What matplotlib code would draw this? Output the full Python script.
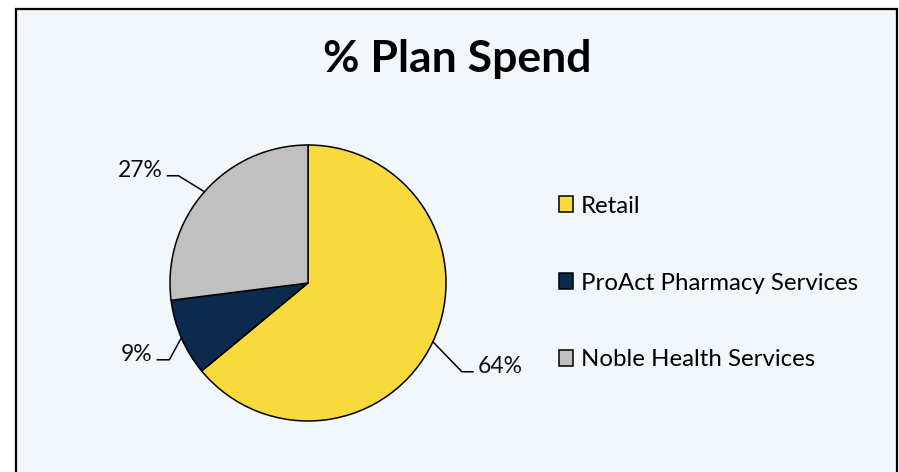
import numpy as np
import matplotlib.pyplot as plt
from matplotlib.patches import Rectangle

plt.rcParams['font.family'] = ['Lato', 'DejaVu Sans']

categories = ["Retail", "ProAct Pharmacy Services", "Noble Health Services"]
shares = [64, 9, 27]
pct_labels = ["64%", "9%", "27%"]
colors = ["#F9DA3C", "#0B2A4D", "#C0C0C0"]

W, H = 899, 472
fig = plt.figure(figsize=(W / 100, H / 100), dpi=100)
fig.patch.set_facecolor("white")
ax = fig.add_axes([0, 0, 1, 1])

# work in pixel-like units, y pointing up
cx, cy, r = 308, H - 283, 138

ax.add_patch(Rectangle((16, -20), 881, H - 9 + 20, facecolor="#F2F7FC",
                       edgecolor="black", linewidth=1.6, zorder=0))

wedges, _ = ax.pie(shares, colors=colors, startangle=90, counterclock=False,
                   center=(cx, cy), radius=r,
                   wedgeprops=dict(edgecolor="black", linewidth=1.1))
ax.set_xlim(0, W)
ax.set_ylim(0, H)
ax.set_aspect("equal")
ax.axis("off")

# leader lines: diagonal out of the wedge, then a short horizontal tail
diag = [(29, -30), (-12, -22), (-26, 16)]
tail = [11, -12, -11]
for w, lab, d, t in zip(wedges, pct_labels, diag, tail):
    mid = np.deg2rad((w.theta1 + w.theta2) / 2)
    x0, y0 = cx + r * np.cos(mid), cy + r * np.sin(mid)
    x1, y1 = x0 + d[0], y0 + d[1]
    x2 = x1 + t
    ax.plot([x0, x1, x2], [y0, y1, y1], color="black", lw=1.1)
    ha = "left" if t > 0 else "right"
    ax.text(x2 + (5 if t > 0 else -5), y1 - 1, lab, ha=ha, va="baseline",
            fontsize=16.5, color="#111111")

ax.text(457, H - 59, "% Plan Spend", ha="center", va="center",
        fontsize=32, fontweight="bold")

ax.legend(wedges, categories, loc="center left",
          bbox_to_anchor=(549 / W, (H - 283) / H), frameon=False,
          fontsize=17.3, handlelength=0.6, handleheight=0.6,
          handletextpad=0.32, labelspacing=2.33, borderaxespad=0)

fig.savefig("out.png", dpi=100, facecolor="white")
